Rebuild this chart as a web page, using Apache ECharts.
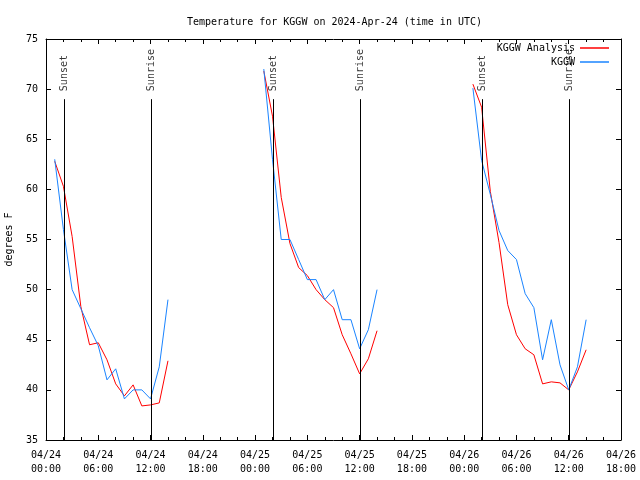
<!DOCTYPE html>
<html><head><meta charset="utf-8">
<script src="https://cdn.jsdelivr.net/npm/echarts@6/dist/echarts.min.js"></script>
<style>html,body{margin:0;padding:0;background:#fff}#c{width:640px;height:480px}</style>
</head><body><div id="c"></div>
<script>
// ---- data ----
const hoursOfDay = [1,2,3,4,5,6,7,8,9,10,11,12,13,14];   // UTC hour within each day
const dayStarts = [0, 24, 48];                            // hours since 04/24 00:00
const analysisDay1 = [62.8, 60.3, 55.3, 48.3, 44.5, 44.7, 43.0, 40.6, 39.4, 40.5, 38.4, 38.5, 38.7, 42.9];
const analysisDay2 = [71.8, 67.3, 59.2, 54.6, 52.2, 51.4, 50.0, 49.0, 48.2, 45.5, 43.6, 41.6, 43.1, 45.9];
const analysisDay3 = [70.5, 68.2, 59.8, 54.7, 48.5, 45.5, 44.1, 43.5, 40.6, 40.8, 40.7, 40.0, 41.8, 44.0];
const obsDay1 = [63.0, 56.0, 50.0, 48.1, 46.2, 44.4, 41.0, 42.1, 39.1, 40.0, 40.0, 39.1, 42.3, 49.0];
const obsDay2 = [72.0, 63.0, 55.0, 55.0, 53.0, 51.0, 51.0, 49.0, 50.0, 47.0, 47.0, 44.1, 46.0, 50.0];
const obsDay3 = [70.1, 62.9, 59.5, 55.9, 53.9, 53.0, 49.6, 48.2, 43.0, 47.0, 42.5, 40.0, 42.3, 47.0];
const sunNames = ['Sunset', 'Sunrise', 'Sunset', 'Sunrise', 'Sunset', 'Sunrise'];
const sunTimes = [2.07, 12.08, 26.07, 36.05, 50.07, 60.03];
const sunLineTop = 69;
const xTickLabels = ['04/24\n00:00','04/24\n06:00','04/24\n12:00','04/24\n18:00',
                     '04/25\n00:00','04/25\n06:00','04/25\n12:00','04/25\n18:00',
                     '04/26\n00:00','04/26\n06:00','04/26\n12:00','04/26\n18:00'];
const yTicks = [35, 40, 45, 50, 55, 60, 65, 70, 75];

// ---- chart ----
const FF = 'DejaVu Sans Mono';
const RED = '#ff0000', BLUE = '#1a84ff';
const chart = echarts.init(document.getElementById('c'), null, {renderer: 'canvas'});

function pts(day, vals) { return vals.map((v, i) => [dayStarts[day] + hoursOfDay[i], v]); }
function lineSeries(name, color, day, vals, z) {
  return {type: 'line', name, data: pts(day, vals), showSymbol: false, symbol: 'none',
    lineStyle: {color, width: 1}, itemStyle: {color}, animation: false, z, silent: true};
}

const xBase = {type: 'value', min: 0, max: 66, interval: 6, splitLine: {show: false},
  axisLine: {show: true, onZero: false, lineStyle: {color: '#000', width: 1}},
  axisTick: {show: true, inside: true, length: 5, lineStyle: {color: '#000'}},
  minorTick: {show: true, splitNumber: 3, length: 3, lineStyle: {color: '#000'}}};
const yBase = {type: 'value', min: yTicks[0], max: yTicks[yTicks.length - 1], interval: 5, splitLine: {show: false},
  axisLine: {show: true, onZero: false, lineStyle: {color: '#000', width: 1}},
  axisTick: {show: true, inside: true, length: 5, lineStyle: {color: '#000'}}};

const option = {
  backgroundColor: '#fff',
  animation: false,
  title: {text: 'Temperature for KGGW on 2024-Apr-24 (time in UTC)', left: 182, top: 12,
    textStyle: {fontFamily: FF, fontSize: 10, fontWeight: 'normal', color: '#000'}},
  grid: {left: 46, right: 19, top: 39, bottom: 40, containLabel: false, outerBoundsMode: 'none'},
  legend: [
    {data: ['KGGW Analysis'], right: 31, top: 43, orient: 'vertical', align: 'right', padding: 0,
     itemWidth: 29, itemHeight: 1.5, icon: 'rect', selectedMode: false,
     textStyle: {fontFamily: FF, fontSize: 10, color: '#000'}},
    {data: ['KGGW'], right: 31, top: 57, orient: 'vertical', align: 'right', padding: 0,
     itemWidth: 29, itemHeight: 1.5, icon: 'rect', selectedMode: false,
     textStyle: {fontFamily: FF, fontSize: 10, color: '#000'}}
  ],
  xAxis: [
    Object.assign({}, xBase, {position: 'bottom',
      axisLabel: {formatter: v => xTickLabels[Math.round(v / 6)], color: '#000', fontFamily: FF, fontSize: 10,
        margin: 8, lineHeight: 14}}),
    Object.assign({}, xBase, {position: 'top', axisLabel: {show: false}})
  ],
  yAxis: [
    Object.assign({}, yBase, {position: 'left', name: 'degrees F', nameLocation: 'middle', nameGap: 32,
      nameRotate: 90, nameTextStyle: {fontFamily: FF, fontSize: 10, color: '#000'},
      axisLabel: {color: '#000', fontFamily: FF, fontSize: 10, margin: 8}}),
    Object.assign({}, yBase, {position: 'right', axisLabel: {show: false}})
  ],
  series: [
    {type: 'scatter', name: 'sun', data: sunTimes.map((t, i) => [t, sunLineTop, sunNames[i]]),
     symbolSize: 0, silent: true, z: 1,
     label: {show: true, formatter: p => p.data[2], rotate: 90, position: 'top', distance: 8,
       align: 'left', verticalAlign: 'middle', fontFamily: FF, fontSize: 10, color: '#000'},
     markLine: {silent: true, symbol: 'none', animation: false, label: {show: false},
       lineStyle: {color: '#000', width: 1, type: 'solid'},
       data: sunTimes.map(t => [{coord: [t, yTicks[0]]}, {coord: [t, sunLineTop]}])}},
    lineSeries('KGGW Analysis', RED, 0, analysisDay1, 2),
    lineSeries('KGGW Analysis', RED, 1, analysisDay2, 2),
    lineSeries('KGGW Analysis', RED, 2, analysisDay3, 2),
    lineSeries('KGGW', BLUE, 0, obsDay1, 3),
    lineSeries('KGGW', BLUE, 1, obsDay2, 3),
    lineSeries('KGGW', BLUE, 2, obsDay3, 3)
  ]
};
chart.setOption(option);
</script></body></html>
